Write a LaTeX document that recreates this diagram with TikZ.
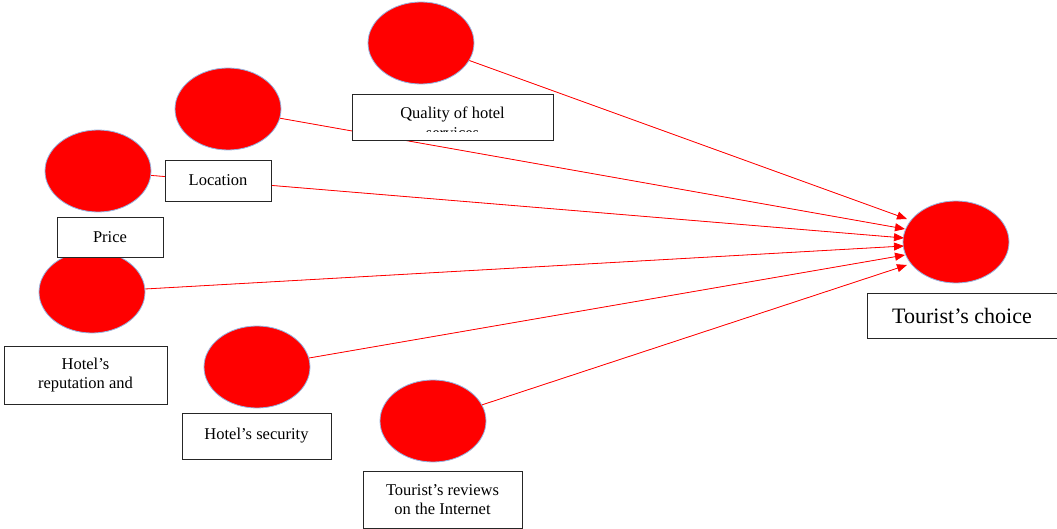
\documentclass[tikz,border=0pt]{standalone}
\usepackage{fontspec}
\setmainfont{Liberation Serif}
\usetikzlibrary{shapes.geometric,arrows.meta}
\begin{document}
\begin{tikzpicture}[x=1pt,y=-1pt,
  blob/.style={ellipse,fill=red,draw={rgb,255:red,150;green,180;blue,225},line width=0.8pt,minimum width=106pt,minimum height=82pt,inner sep=0pt},
  link/.style={draw=red,fill=red,line width=0.8pt,-{Triangle[length=10pt,width=8pt]}},
  box/.style={draw=black!85,fill=white,line width=0.8pt,inner sep=0pt,align=center,font=\fontsize{16.5}{19}\selectfont}]
\useasboundingbox (0,0) rectangle (1057,529);
% ellipses
\node[blob] (eq) at (421,43) {};
\node[blob] (el) at (228,109) {};
\node[blob] (ep) at (98,171) {};
\node[blob] (er) at (92,292) {};
\node[blob] (es) at (257,367) {};
\node[blob] (ev) at (433,421) {};
\node[blob] (et) at (956,242) {};
% arrow end points
\coordinate (t1) at (907,219);
\coordinate (t2) at (905,229);
\coordinate (t3) at (904,238);
\coordinate (t4) at (904,246);
\coordinate (t5) at (905,255);
\coordinate (t6) at (907,265);
\draw[link] (eq) -- (t1);
\draw[link] (el) -- (t2);
\draw[link] (ep) -- (t3);
\draw[link] (er) -- (t4);
\draw[link] (es) -- (t5);
\draw[link] (ev) -- (t6);
% boxes
\node[box,minimum width=201pt,minimum height=46pt] (bq) at (452.5,117) {};
\begin{scope}
\clip (353,95) rectangle (552,132);
\node[align=center,font=\fontsize{16.5}{20}\selectfont,inner sep=0pt] (tq) at (452.5,123) {Quality of hotel\\services};
\end{scope}
\node[box,minimum width=106pt,minimum height=41pt] (bl) at (218,180.5) {Location};
\node[box,minimum width=106pt,minimum height=40pt] (bp) at (110,237) {Price};
\node[box,minimum width=163pt,minimum height=58pt] (br) at (85.5,375) {Hotel’s\\reputation and};
\node[box,minimum width=149pt,minimum height=46pt] (bs) at (256.5,436) {Hotel’s security};
\node[box,minimum width=159pt,minimum height=57pt] (bv) at (442.5,499.5) {Tourist’s reviews\\on the Internet};
\node[box,minimum width=190pt,minimum height=45pt,font=\fontsize{22}{24}\selectfont] (bt) at (962,316) {Tourist’s choice};
\end{tikzpicture}
\end{document}
